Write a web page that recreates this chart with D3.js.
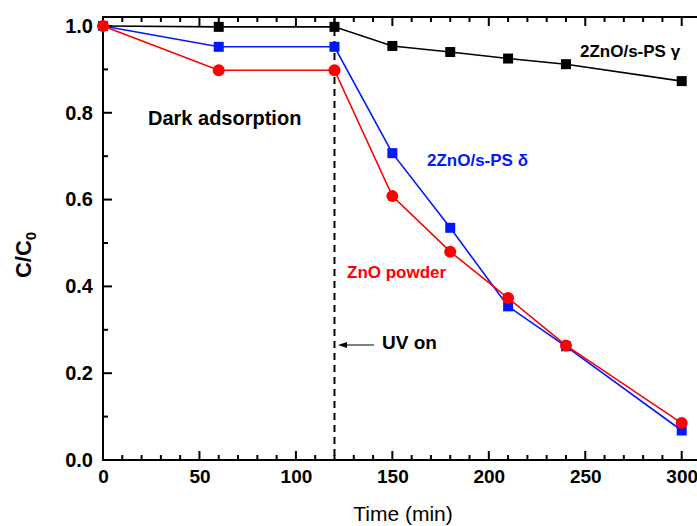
<!DOCTYPE html>
<html lang="en">
<head>
<meta charset="utf-8">
<title>C/C0 vs time</title>
<script src="https://d3js.org/d3.v7.min.js"></script>
<style>
  body { margin: 0; background: #fff; }
  svg { display: block; font-family: "Liberation Sans", Arial, sans-serif; }
</style>
</head>
<body>
<svg width="697" height="526"></svg>
<script>
// data
const times = [0, 60, 120, 150, 180, 210, 240, 300];
const gammaPS = [1.0, 0.998, 0.998, 0.954, 0.940, 0.925, 0.912, 0.873];
const deltaPS = [1.0, 0.952, 0.952, 0.707, 0.535, 0.354, 0.262, 0.068];
const znoPowder = [1.0, 0.898, 0.898, 0.608, 0.480, 0.373, 0.264, 0.085];
const xTicks = [0, 50, 100, 150, 200, 250, 300];
const yTicks = [0.0, 0.2, 0.4, 0.6, 0.8, 1.0];

const svg = d3.select("svg");
const pLeft = 103, pRight = 701, pTop = 17, pBottom = 460;

const x = d3.scaleLinear().domain([0, 310]).range([pLeft, pRight]);
const y = d3.scaleLinear().domain([0, 1.0207]).range([pBottom, pTop]);

// frame
svg.append("rect")
  .attr("x", pLeft).attr("y", pTop)
  .attr("width", pRight - pLeft).attr("height", pBottom - pTop)
  .attr("fill", "none").attr("stroke", "#000").attr("stroke-width", 2);

// ticks, all pointing inward
const xMinor = d3.range(0, 311, 10);
const yMinor = d3.range(0, 11).map(d => d / 10);

svg.append("g").selectAll("line").data(xMinor).join("line")
  .attr("x1", d => x(d)).attr("x2", d => x(d))
  .attr("y1", pBottom).attr("y2", d => pBottom - (d % 50 === 0 ? 9 : 5))
  .attr("stroke", "#000").attr("stroke-width", 2);
svg.append("g").selectAll("line").data(xMinor).join("line")
  .attr("x1", d => x(d)).attr("x2", d => x(d))
  .attr("y1", pTop).attr("y2", d => pTop + (d % 50 === 0 ? 9 : 5))
  .attr("stroke", "#000").attr("stroke-width", 2);
svg.append("g").selectAll("line").data(yMinor).join("line")
  .attr("x1", pLeft).attr("x2", (d, i) => pLeft + (i % 2 === 0 ? 9 : 5))
  .attr("y1", d => y(d)).attr("y2", d => y(d))
  .attr("stroke", "#000").attr("stroke-width", 2);

// axes for labels
const xAxis = svg.append("g")
  .attr("transform", "translate(0," + pBottom + ")")
  .call(d3.axisBottom(x).tickValues(xTicks).tickSize(0).tickPadding(10).tickFormat(d3.format("d")));
xAxis.select(".domain").remove();
xAxis.selectAll("text").attr("font-size", 19).attr("font-weight", "bold")
  .attr("font-family", "Liberation Sans, Arial, sans-serif").attr("fill", "#000");

const yAxis = svg.append("g")
  .attr("transform", "translate(" + pLeft + ",0)")
  .call(d3.axisLeft(y).tickValues(yTicks).tickSize(0).tickPadding(10).tickFormat(d3.format(".1f")));
yAxis.select(".domain").remove();
yAxis.selectAll("text").attr("font-size", 20).attr("font-weight", "bold")
  .attr("font-family", "Liberation Sans, Arial, sans-serif").attr("fill", "#000");

// axis titles
svg.append("text")
  .attr("x", 403).attr("y", 521)
  .attr("text-anchor", "middle").attr("font-size", 21)
  .text("Time (min)");

const yt = svg.append("text")
  .attr("transform", "translate(31,255) rotate(-90)")
  .attr("text-anchor", "middle").attr("font-size", 22).attr("font-weight", "bold");
yt.append("tspan").text("C/C");
yt.append("tspan").attr("font-size", 15).attr("dy", 5).text("0");

// UV on dashed line
svg.append("line")
  .attr("x1", x(120)).attr("x2", x(120))
  .attr("y1", pTop).attr("y2", pBottom)
  .attr("stroke", "#000").attr("stroke-width", 2)
  .attr("stroke-dasharray", "7,5");

const series = [
  { name: "2ZnO/s-PS γ", values: gammaPS, color: "#000", shape: "square" },
  { name: "2ZnO/s-PS δ", values: deltaPS, color: "#0019ff", shape: "square" },
  { name: "ZnO powder", values: znoPowder, color: "#ff0000", shape: "circle" }
];

const line = d3.line().x((d, i) => x(times[i])).y(d => y(d));

series.forEach(s => {
  svg.append("path")
    .datum(s.values)
    .attr("d", line)
    .attr("fill", "none")
    .attr("stroke", s.color)
    .attr("stroke-width", 1.6);
  if (s.shape === "square") {
    svg.append("g").selectAll("rect").data(s.values).join("rect")
      .attr("x", (d, i) => x(times[i]) - 5)
      .attr("y", d => y(d) - 5)
      .attr("width", 10).attr("height", 10)
      .attr("fill", s.color);
  } else {
    svg.append("g").selectAll("circle").data(s.values).join("circle")
      .attr("cx", (d, i) => x(times[i]))
      .attr("cy", d => y(d))
      .attr("r", 6)
      .attr("fill", s.color);
  }
});

// annotations
svg.append("text").attr("x", 148).attr("y", 125)
  .attr("font-size", 20).attr("font-weight", "bold").text("Dark adsorption");
svg.append("text").attr("x", 580).attr("y", 57)
  .attr("font-size", 17).attr("font-weight", "bold").text("2ZnO/s-PS γ");
svg.append("text").attr("x", 427).attr("y", 166)
  .attr("font-size", 17).attr("font-weight", "bold").attr("fill", "#0019ff").text("2ZnO/s-PS δ");
svg.append("text").attr("x", 347).attr("y", 278)
  .attr("font-size", 17).attr("font-weight", "bold").attr("fill", "#ff0000").text("ZnO powder");
svg.append("text").attr("x", 382).attr("y", 349)
  .attr("font-size", 19).attr("font-weight", "bold").text("UV on");

// arrow
svg.append("line")
  .attr("x1", 374).attr("x2", 345).attr("y1", 345).attr("y2", 345)
  .attr("stroke", "#000").attr("stroke-width", 1);
svg.append("path")
  .attr("d", "M338,345 L347,342 L347,348 Z")
  .attr("fill", "#000");
</script>
</body>
</html>
